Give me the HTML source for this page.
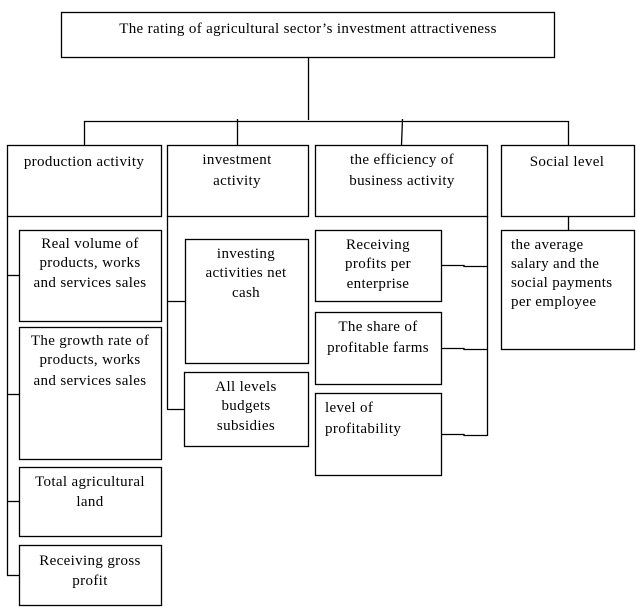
<!DOCTYPE html>
<html><head><meta charset="utf-8"><style>
html,body{margin:0;padding:0;background:#fff;}
svg{display:block;}
text{font-family:"Liberation Serif",serif;font-size:15px;letter-spacing:0.35px;fill:#000;}
</style></head><body>
<svg width="637" height="615" viewBox="0 0 637 615" xmlns="http://www.w3.org/2000/svg">
<g fill="none" stroke="#000" stroke-width="1.3">
<rect x="61.5" y="12.5" width="493" height="45"/>
<line x1="308.5" y1="58" x2="308.5" y2="120"/>
<line x1="84" y1="121.5" x2="569" y2="121.5"/>
<line x1="84.5" y1="121" x2="84.5" y2="145"/>
<line x1="237.5" y1="119" x2="237.5" y2="145"/>
<line x1="402.5" y1="119" x2="401.5" y2="145"/>
<line x1="568.5" y1="121" x2="568.5" y2="145"/>
<rect x="7.5" y="145.5" width="154" height="71"/>
<rect x="167.5" y="145.5" width="141" height="71"/>
<rect x="315.5" y="145.5" width="172" height="71"/>
<rect x="501.5" y="145.5" width="133" height="71"/>
<line x1="7.5" y1="216" x2="7.5" y2="575.5"/>
<line x1="7" y1="275.5" x2="19" y2="275.5"/>
<line x1="7" y1="394.5" x2="19" y2="394.5"/>
<line x1="7" y1="501.5" x2="19" y2="501.5"/>
<line x1="7" y1="575.5" x2="19" y2="575.5"/>
<rect x="19.5" y="230.5" width="142" height="91"/>
<rect x="19.5" y="327.5" width="142" height="132"/>
<rect x="19.5" y="467.5" width="142" height="69"/>
<rect x="19.5" y="545.5" width="142" height="60"/>
<line x1="167.5" y1="216" x2="167.5" y2="409.5"/>
<line x1="167" y1="301.5" x2="185" y2="301.5"/>
<line x1="167" y1="409.5" x2="184" y2="409.5"/>
<rect x="185.5" y="239.5" width="123" height="124"/>
<rect x="184.5" y="372.5" width="124" height="74"/>
<line x1="487.5" y1="216" x2="487.5" y2="436"/>
<polyline points="441,265.5 464,265.5 464,266.5 487,266.5"/>
<polyline points="441,348.5 464,348.5 464,349.5 487,349.5"/>
<polyline points="441,434.5 464,434.5 464,435.5 487,435.5"/>
<rect x="315.5" y="230.5" width="126" height="71"/>
<rect x="315.5" y="312.5" width="126" height="72"/>
<rect x="315.5" y="393.5" width="126" height="82"/>
<line x1="568.5" y1="216" x2="568.5" y2="230"/>
<rect x="501.5" y="230.5" width="133" height="119"/>
</g>
<g text-anchor="middle">
<text x="308" y="33">The rating of agricultural sector’s investment attractiveness</text>
<text x="84" y="166">production activity</text>
<text x="237" y="164">investment</text>
<text x="237" y="185">activity</text>
<text x="402" y="164">the efficiency of</text>
<text x="402" y="185">business activity</text>
<text x="567" y="166">Social level</text>
<text x="90" y="248">Real volume of</text>
<text x="90" y="267">products, works</text>
<text x="90" y="287">and services sales</text>
<text x="90" y="345">The growth rate of</text>
<text x="90" y="364">products, works</text>
<text x="90" y="385">and services sales</text>
<text x="90" y="486">Total agricultural</text>
<text x="90" y="506">land</text>
<text x="90" y="565">Receiving gross</text>
<text x="90" y="585">profit</text>
<text x="246" y="258">investing</text>
<text x="246" y="277">activities net</text>
<text x="246" y="297">cash</text>
<text x="246" y="391">All levels</text>
<text x="246" y="410">budgets</text>
<text x="246" y="430">subsidies</text>
<text x="378" y="249">Receiving</text>
<text x="378" y="268">profits per</text>
<text x="378" y="288">enterprise</text>
<text x="378" y="331">The share of</text>
<text x="378" y="352">profitable farms</text>
</g>
<text x="325" y="412">level of</text>
<text x="325" y="433">profitability</text>
<text x="511" y="249">the average</text>
<text x="511" y="268">salary and the</text>
<text x="511" y="287">social payments</text>
<text x="511" y="306">per employee</text>
</svg>
</body></html>
